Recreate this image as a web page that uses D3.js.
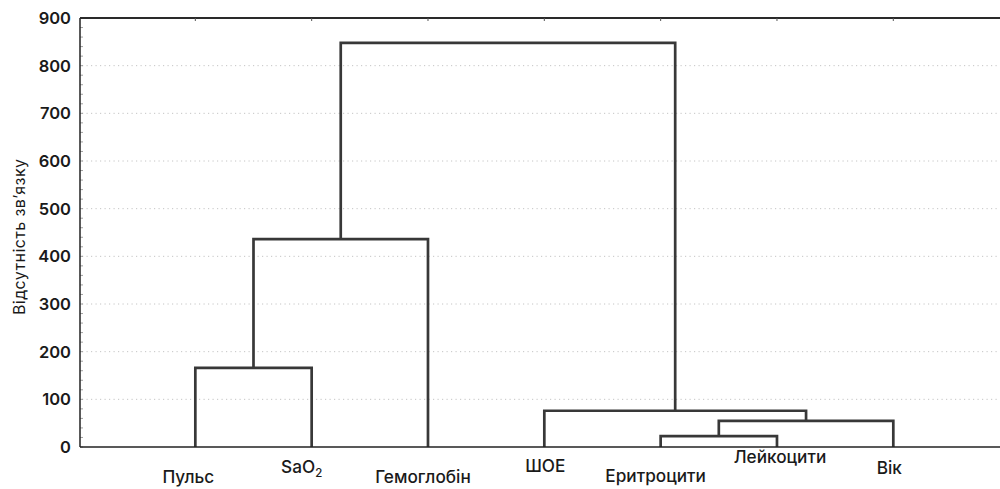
<!DOCTYPE html>
<html>
<head>
<meta charset="utf-8">
<script src="https://cdn.jsdelivr.net/npm/d3@7"></script>
<style>
  html, body { margin: 0; padding: 0; background: #ffffff; overflow: hidden; }
  svg { display: block; }
</style>
</head>
<body>
<svg id="chart" width="1000" height="489"></svg>
<script>
// ---- data ----
const leafLabels = ["Пульс", "SaO2", "Гемоглобін", "ШОЕ", "Еритроцити", "Лейкоцити", "Вік"];
// linkage: cluster ids 0..6 are leaves, 7+ are merges in order
const mergeLeft   = [0, 7, 4, 9, 3, 8];
const mergeRight  = [1, 2, 5, 6, 10, 11];
const mergeHeight = [166, 436, 23, 55, 76, 848];
const yTicks = [0, 100, 200, 300, 400, 500, 600, 700, 800, 900];
const yTitle = "Відсутність зв’язку";

// ---- layout ----
const pLeft = 80, pTop = 18, pBottom = 447, pRight = 1000;
const svg = d3.select("#chart");
const font = "Inter, 'Noto Sans', sans-serif";

const x = d3.scaleLinear().domain([0, 8]).range([79, 79 + 8 * 116.33]);
const y = d3.scaleLinear().domain([0, 900]).range([pBottom, pTop]);

// grid
svg.append("g").selectAll("line")
  .data(yTicks.filter(d => d > 0 && d < 900))
  .join("line")
  .attr("x1", pLeft + 2).attr("x2", pRight)
  .attr("y1", d => y(d)).attr("y2", d => y(d))
  .attr("stroke", "#c4c4c4").attr("stroke-width", 1)
  .attr("stroke-dasharray", "1.2,3.3");

// minor ticks on left axis (inside)
const minor = d3.range(0, 901, 20);
svg.append("g").selectAll("line")
  .data(minor)
  .join("line")
  .attr("x1", pLeft).attr("x2", pLeft + 3)
  .attr("y1", d => y(d)).attr("y2", d => y(d))
  .attr("stroke", "#a0a0a0").attr("stroke-width", 1);

// compute node positions
const nodes = leafLabels.map((l, i) => ({ x: i + 1, h: 0 }));
mergeLeft.forEach((l, i) => {
  const a = nodes[l], b = nodes[mergeRight[i]];
  nodes.push({ x: (a.x + b.x) / 2, h: mergeHeight[i], a, b });
});

// dendrogram links
const g = svg.append("g");
nodes.filter(n => n.a).forEach(n => {
  const p = d3.path();
  p.moveTo(x(n.a.x), y(n.a.h));
  p.lineTo(x(n.a.x), y(n.h));
  p.lineTo(x(n.b.x), y(n.h));
  p.lineTo(x(n.b.x), y(n.b.h));
  g.append("path").attr("d", p.toString())
    .attr("fill", "none").attr("stroke", "#383838")
    .attr("stroke-width", 2.7).attr("stroke-linejoin", "miter");
});

// frame
svg.append("line").attr("x1", pLeft).attr("x2", pLeft).attr("y1", pTop).attr("y2", pBottom)
  .attr("stroke", "#222").attr("stroke-width", 1.5);
svg.append("line").attr("x1", pLeft).attr("x2", pRight).attr("y1", pBottom).attr("y2", pBottom)
  .attr("stroke", "#222").attr("stroke-width", 1.5);
svg.append("line").attr("x1", pLeft).attr("x2", pRight).attr("y1", pTop).attr("y2", pTop)
  .attr("stroke", "#2a2a2a").attr("stroke-width", 2.2);

// top ticks at leaf positions (inside)
svg.append("g").selectAll("line")
  .data(leafLabels.map((d, i) => i + 1))
  .join("line")
  .attr("x1", d => x(d)).attr("x2", d => x(d))
  .attr("y1", pTop).attr("y2", pTop + 3)
  .attr("stroke", "#555").attr("stroke-width", 1);

// y tick labels
svg.append("g").selectAll("text")
  .data(yTicks)
  .join("text")
  .attr("x", 71).attr("y", d => y(d) + 6)
  .attr("text-anchor", "end")
  .attr("font-family", font).attr("font-size", 16.5).attr("font-weight", 600)
  .attr("fill", "#1a1a1a")
  .text(d => d);

// y title
svg.append("text")
  .attr("transform", `translate(25,237) rotate(-90)`)
  .attr("text-anchor", "middle")
  .attr("font-family", font).attr("font-size", 16).attr("font-weight", 400)
  .attr("fill", "#1a1a1a")
  .attr("textLength", 156).attr("lengthAdjust", "spacing")
  .text(yTitle);

// leaf labels (staggered as in original)
const labelDx = [-7, -10, -5, 1, -5, 3, -4];
const labelBase = [36, 26, 36, 25, 35, 16, 27];
const lab = svg.append("g").selectAll("text")
  .data(leafLabels)
  .join("text")
  .attr("x", (d, i) => x(i + 1) + labelDx[i])
  .attr("y", (d, i) => pBottom + labelBase[i])
  .attr("text-anchor", "middle")
  .attr("font-family", font).attr("font-size", 17.2).attr("font-weight", 500)
  .attr("fill", "#1a1a1a");
lab.each(function(d) {
  const t = d3.select(this);
  const m = d.match(/^(.*?)(\d+)$/);
  if (m) {
    t.append("tspan").text(m[1]);
    t.append("tspan").attr("font-size", 11.5).attr("dy", 4).text(m[2]);
  } else {
    t.text(d);
  }
});
</script>
</body>
</html>
